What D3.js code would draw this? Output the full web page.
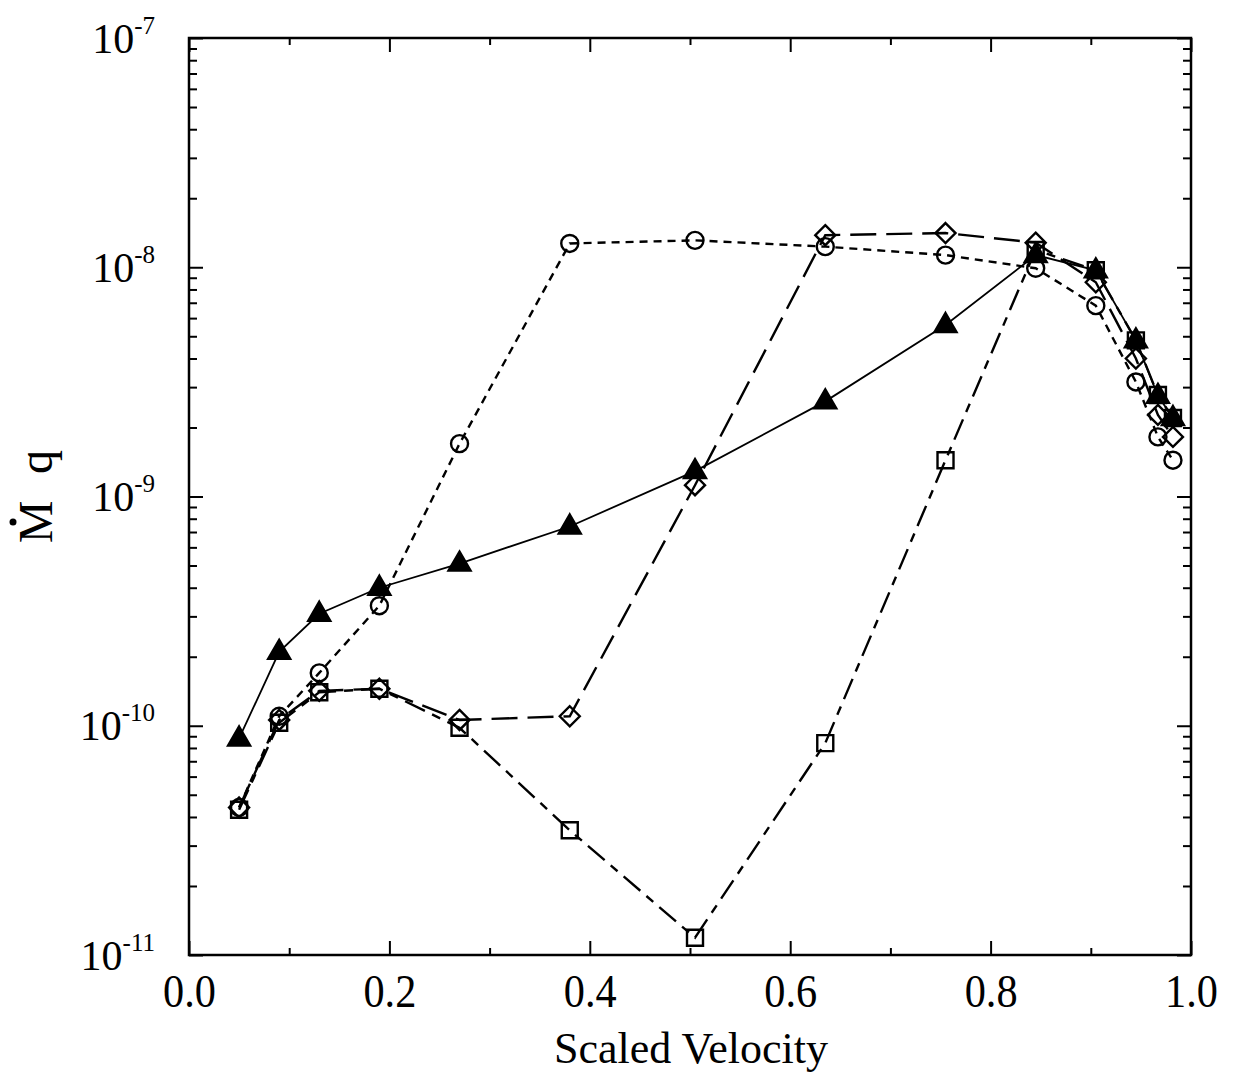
<!DOCTYPE html>
<html>
<head>
<meta charset="utf-8">
<script src="https://cdn.jsdelivr.net/npm/d3@7"></script>
<style>
  body { margin: 0; background: #fff; }
  svg { display: block; }
  text { font-family: "Liberation Serif", "Times New Roman", serif; fill: #000; }
</style>
</head>
<body>
<svg id="chart" width="1233" height="1076"></svg>
<script>
// ---- data ----
const velocity = [0.05, 0.09, 0.13, 0.19, 0.27, 0.38, 0.505, 0.635, 0.755, 0.845, 0.905, 0.945, 0.967, 0.982];
const triangles = [8.8e-11, 2.1e-10, 3.08e-10, 4.0e-10, 5.1e-10, 7.4e-10, 1.29e-9, 2.6e-9, 5.6e-9, 1.13e-8, 9.7e-9, 4.8e-9, 2.75e-9, 2.2e-9];
const circles   = [4.4e-11, 1.1e-10, 1.7e-10, 3.34e-10, 1.7e-9, 1.27e-8, 1.31e-8, 1.23e-8, 1.13e-8, 9.9e-9, 6.8e-9, 3.16e-9, 1.82e-9, 1.44e-9];
const diamonds  = [4.4e-11, 1.06e-10, 1.42e-10, 1.45e-10, 1.06e-10, 1.1e-10, 1.12e-9, 1.38e-8, 1.41e-8, 1.28e-8, 8.6e-9, 4.0e-9, 2.27e-9, 1.82e-9];
const squares   = [4.3e-11, 1.03e-10, 1.4e-10, 1.45e-10, 9.8e-11, 3.5e-11, 1.19e-11, 8.4e-11, 1.44e-9, 1.19e-8, 9.7e-9, 4.8e-9, 2.77e-9, 2.2e-9];
const xMajorTicks = [0, 0.2, 0.4, 0.6, 0.8, 1.0];
const xMinorTicks = [0.1, 0.3, 0.5, 0.7, 0.9];
const yMajorTicks = [1e-11, 1e-10, 1e-9, 1e-8, 1e-7];
const yExponents = ["-11", "-10", "-9", "-8", "-7"];
const xLabel = "Scaled Velocity";

// ---- layout ----
const L = 189, R = 1191, T = 38, B = 955;
const svg = d3.select("#chart");
const x = d3.scaleLinear().domain([0, 1]).range([L, R]);
const y = d3.scaleLog().domain([1e-11, 1e-7]).range([B, T]);

const yMinorTicks = [];
for (let e = -11; e < -7; e++) for (let m = 2; m <= 9; m++) yMinorTicks.push(m * Math.pow(10, e));

function styleAxis(g) {
  g.select(".domain").remove();
  g.selectAll(".tick line").attr("stroke", "#000").attr("stroke-width", 2);
}

// bottom axis (major with labels)
const gB = svg.append("g").attr("transform", `translate(0,${B})`)
  .call(d3.axisBottom(x).tickValues(xMajorTicks).tickSizeInner(-14).tickSizeOuter(0).tickFormat(d3.format(".1f")));
styleAxis(gB);
gB.selectAll(".tick text")
  .attr("y", 52).attr("dy", 0)
  .attr("font-size", 47)
  .attr("transform", "scale(0.9,1)")
  .style("font-family", "Liberation Serif, serif");
svg.append("g").attr("transform", `translate(0,${B})`)
  .call(d3.axisBottom(x).tickValues(xMinorTicks).tickSizeInner(-7).tickSizeOuter(0).tickFormat(""))
  .call(styleAxis);
// top axis
svg.append("g").attr("transform", `translate(0,${T})`)
  .call(d3.axisTop(x).tickValues(xMajorTicks).tickSizeInner(-14).tickSizeOuter(0).tickFormat(""))
  .call(styleAxis);
svg.append("g").attr("transform", `translate(0,${T})`)
  .call(d3.axisTop(x).tickValues(xMinorTicks).tickSizeInner(-7).tickSizeOuter(0).tickFormat(""))
  .call(styleAxis);

// left axis
const gL = svg.append("g").attr("transform", `translate(${L},0)`)
  .call(d3.axisLeft(y).tickValues(yMajorTicks).tickSizeInner(-14).tickSizeOuter(0).tickFormat(() => ""));
styleAxis(gL);
gL.selectAll(".tick text").each(function(d, i) {
  const t = d3.select(this);
  t.attr("x", -34).attr("dy", 0).attr("y", 14).attr("text-anchor", "end").attr("font-size", 42)
   .style("font-family", "Liberation Serif, serif");
  t.text(null);
  t.append("tspan").text("10");
  t.append("tspan").attr("dy", -19).attr("font-size", 25).text(yExponents[i]);
});
svg.append("g").attr("transform", `translate(${L},0)`)
  .call(d3.axisLeft(y).tickValues(yMinorTicks).tickSizeInner(-8).tickSizeOuter(0).tickFormat(""))
  .call(styleAxis);
// right axis
svg.append("g").attr("transform", `translate(${R},0)`)
  .call(d3.axisRight(y).tickValues(yMajorTicks).tickSizeInner(-14).tickSizeOuter(0).tickFormat(""))
  .call(styleAxis);
svg.append("g").attr("transform", `translate(${R},0)`)
  .call(d3.axisRight(y).tickValues(yMinorTicks).tickSizeInner(-8).tickSizeOuter(0).tickFormat(""))
  .call(styleAxis);

// frame
svg.append("rect").attr("x", L).attr("y", T).attr("width", R - L).attr("height", B - T)
  .attr("fill", "none").attr("stroke", "#000").attr("stroke-width", 2.5);

// ---- series ----
const line = d3.line().x(d => x(d[0])).y(d => y(d[1]));
const series = [
  { vals: circles,   dash: "8,6",        width: 2.4, marker: "circle" },
  { vals: diamonds,  dash: "26,10",      width: 2.4, marker: "diamond" },
  { vals: squares,   dash: "22,8,9,8",   width: 2.4, marker: "square" },
  { vals: triangles, dash: null,         width: 1.8, marker: "triangle" }
];
const markerPath = {
  circle: d3.symbol().type(d3.symbolCircle).size(Math.PI * 8.5 * 8.5)(),
  square: "M-8,-8H8V8H-8Z",
  diamond: "M0,-10L10,0L0,10L-10,0Z",
  triangle: "M0,-12L11,7L-11,7Z"
};

series.forEach(s => {
  const pts = velocity.map((v, i) => [v, s.vals[i]]);
  svg.append("path").datum(pts).attr("d", line)
    .attr("fill", "none").attr("stroke", "#000").attr("stroke-width", s.width)
    .attr("stroke-dasharray", s.dash);
});
series.forEach(s => {
  const pts = velocity.map((v, i) => [v, s.vals[i]]);
  svg.append("g").selectAll("path").data(pts).join("path")
    .attr("d", markerPath[s.marker])
    .attr("transform", d => `translate(${x(d[0])},${y(d[1])})`)
    .attr("fill", s.marker === "triangle" ? "#000" : "none")
    .attr("stroke", "#000").attr("stroke-width", 2.4);
});

// ---- axis titles ----
svg.append("text").attr("x", 691).attr("y", 1063).attr("text-anchor", "middle")
  .attr("font-size", 44).text(xLabel);
svg.append("text").attr("transform", "translate(52,522) rotate(-90)").attr("text-anchor", "middle")
  .attr("font-size", 48).text("M");
svg.append("text").attr("transform", "translate(52,462) rotate(-90)").attr("text-anchor", "middle")
  .attr("font-size", 48).text("q");
svg.append("circle").attr("cx", 13).attr("cy", 522).attr("r", 3.5).attr("fill", "#000");
</script>
</body>
</html>
